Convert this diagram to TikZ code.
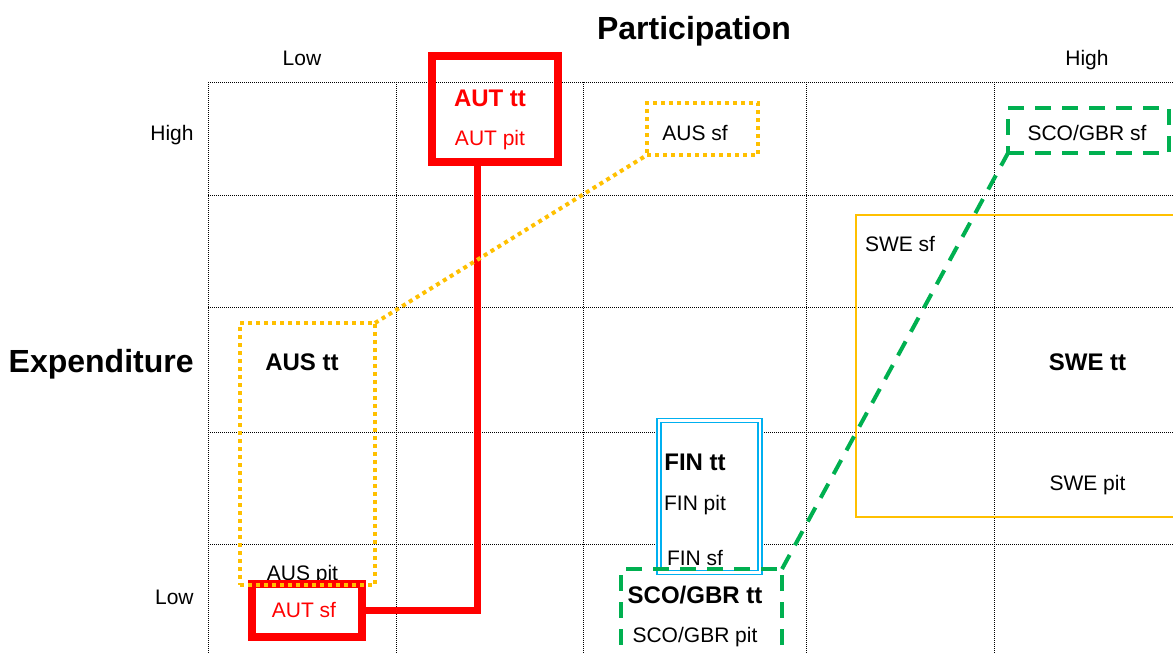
\documentclass[tikz,border=0pt]{standalone}
\usepackage{fontspec}
\setmainfont{Liberation Sans}
\usepackage{xcolor}
\definecolor{gold}{HTML}{FFC000}
\definecolor{grn}{HTML}{00B050}
\definecolor{sky}{HTML}{00B0F0}

\begin{document}
\begin{tikzpicture}[
  x=0.5pt,y=-0.5pt,
  grid/.style={draw=black,line width=0.5pt,dash pattern=on 0.5pt off 0.5pt},
  lbl/.style={font=\fontsize{10.5}{12}\selectfont,inner sep=0,anchor=base},
  tt/.style={font=\bfseries\fontsize{12}{14}\selectfont,inner sep=0,anchor=base},
  axis/.style={font=\bfseries\fontsize{16}{19}\selectfont,inner sep=0,anchor=base},
  frame/.style={inner sep=0,outer sep=0},
  aut/.style={frame,draw=red,line width=4pt},
  autlink/.style={draw=red,line width=3.5pt},
  aus/.style={frame,draw=gold,line width=2pt,dash pattern=on 2pt off 2pt},
  sco/.style={frame,draw=grn,line width=2pt,dash pattern=on 8pt off 5.5pt},
  fin/.style={frame,draw=sky,line width=0.9pt,double=white,double distance=1.1pt,fill=white},
  swe/.style={frame,draw=gold,line width=0.75pt}
]
\useasboundingbox (0,0) rectangle (1173,654);
\clip (0,0) rectangle (1173,654);

% grid
\foreach \x in {208,396,583,806,994}
  \draw[grid] (\x,82) -- (\x,654);
\foreach \y in {82,195,307,432,544}
  \draw[grid] (208,\y) -- (1173,\y);

% axes
\node[axis] (part) at (694,39) {Participation};
\node[axis,anchor=base east] (expe) at (194,372) {Expenditure};
\node[lbl] (plow) at (302,65.5) {Low};
\node[lbl] (phigh) at (1087,65.5) {High};
\node[lbl,anchor=base east] (ehigh) at (194,140) {High};
\node[lbl,anchor=base east] (elow) at (194,604) {Low};

% Sweden
\node[swe,minimum width=167pt,minimum height=151pt] (swe) at (1023,366) {};
\node[lbl] (swesf) at (900,251.7) {SWE sf};
\node[tt] (swett) at (1087.5,370.7) {SWE tt};
\node[lbl] (swepit) at (1087.5,490) {SWE pit};

% Australia
\node[aus,minimum width=55.5pt,minimum height=26pt] (aussf) at (702.5,129) {};
\node[lbl] (aussft) at (695,140) {AUS sf};
\node[tt] (austtt) at (302,370.7) {AUS tt};
\node[lbl] (auspit) at (302.5,580) {AUS pit};

% Austria
\node[aut,minimum width=63pt,minimum height=53pt] (auttt) at (495,109) {};
\node[tt,red] (autttt) at (490,106.7) {AUT tt};
\node[lbl,red] (autpit) at (490,145) {AUT pit};
\coordinate (autup) at (477,162);
\node[aut,fill=white,minimum width=55pt,minimum height=26.5pt] (autsf) at (307,610.5) {};
\node[lbl,red] (autsft) at (304,617) {AUT sf};
\draw[autlink] (autsf.east) -| (autup);

\node[aus,minimum width=67.5pt,minimum height=131pt] (austt) at (307.5,454) {};
\draw[aus] (austt.north east) -- (aussf.south west);

% Finland
\node[fin,minimum width=50.5pt,minimum height=76pt] (fin) at (709.5,496.5) {};
\node[tt] (fintt) at (695,470.7) {FIN tt};
\node[lbl] (finpit) at (695,510) {FIN pit};
\node[lbl] (finsf) at (695,565) {FIN sf};

% Scotland / GBR
\node[sco,minimum width=80.5pt,minimum height=22.5pt] (scosf) at (1088.5,130.5) {};
\node[lbl] (scosft) at (1087,140) {SCO/GBR sf};
\node[sco,minimum width=80.5pt,minimum height=65.5pt] (scott) at (701.5,634.5) {};
\node[tt] (scottt) at (695,603.3) {SCO/GBR tt};
\node[lbl] (scopit) at (695,642.7) {SCO/GBR pit};
\draw[sco] (scott.north east) -- (scosf.south west);
\end{tikzpicture}
\end{document}
